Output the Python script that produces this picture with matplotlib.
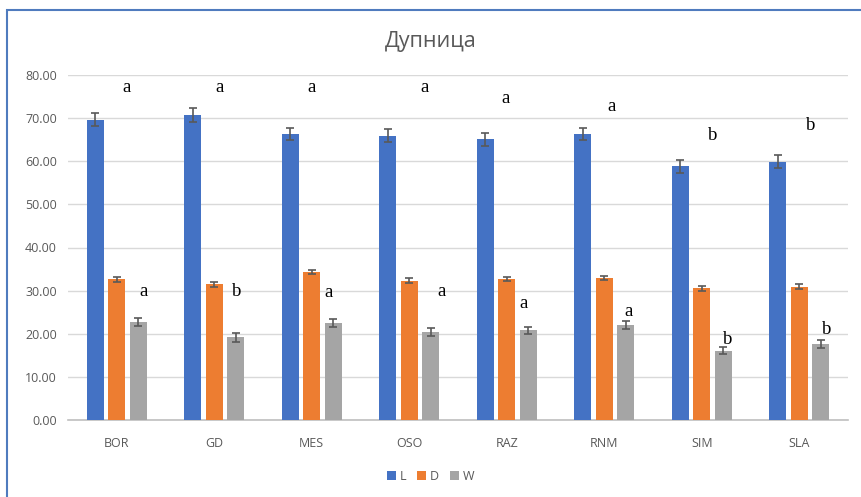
import matplotlib.pyplot as plt
import numpy as np
from matplotlib.patches import Rectangle

# Data
sites = ["BOR", "GD", "MES", "OSO", "RAZ", "RNM", "SIM", "SLA"]
L_vals = [69.6, 70.8, 66.3, 65.9, 65.1, 66.3, 58.8, 59.9]
D_vals = [32.6, 31.5, 34.3, 32.3, 32.7, 32.9, 30.5, 30.9]
W_vals = [22.7, 19.2, 22.5, 20.4, 20.8, 22.0, 16.1, 17.6]
L_err = [1.5, 1.6, 1.45, 1.5, 1.5, 1.45, 1.45, 1.5]
D_err = [0.6, 0.6, 0.5, 0.55, 0.5, 0.5, 0.5, 0.55]
W_err = [0.9, 1.0, 0.85, 0.85, 0.85, 0.85, 0.8, 0.85]
L_letters = ["a", "a", "a", "a", "a", "a", "b", "b"]
W_letters = ["a", "b", "a", "a", "a", "a", "b", "b"]

# Letter placement (x offset from group centre, y height)
L_letter_dx = [0.105, 0.05, 0.0, 0.16, -0.01, 0.08, 0.115, 0.12]
L_letter_y = [77.0, 77.0, 77.0, 77.0, 74.5, 72.6, 65.9, 68.4]
W_letter_dx = [0.27, 0.23, 0.17, 0.33, 0.17, 0.245, 0.27, 0.285]
W_letter_y = [29.7, 29.7, 29.5, 29.7, 26.9, 25.1, 18.6, 20.9]

blue = "#4472C4"
orange = "#ED7D31"
gray = "#A5A5A5"
txt = "#595959"

fig = plt.figure(figsize=(8.61, 4.97), dpi=100)
ax = fig.add_axes([68 / 861, 1 - 420 / 497, 780 / 861, 345 / 497])

x = np.arange(len(sites))
w = 0.175
step = 0.222
ekw = dict(ecolor="#595959", elinewidth=1.2, capsize=3, capthick=1.2)
ax.bar(x - step, L_vals, w, yerr=L_err, color=blue, label="L", error_kw=ekw, zorder=3)
ax.bar(x, D_vals, w, yerr=D_err, color=orange, label="D", error_kw=ekw, zorder=3)
ax.bar(x + step, W_vals, w, yerr=W_err, color=gray, label="W", error_kw=ekw, zorder=3)

for i in range(len(sites)):
    ax.text(x[i] + L_letter_dx[i], L_letter_y[i], L_letters[i], ha="center", va="center",
            fontsize=13.5, family="Liberation Serif", color="black", zorder=5)
    ax.text(x[i] + W_letter_dx[i], W_letter_y[i], W_letters[i], ha="center", va="center",
            fontsize=13.5, family="Liberation Serif", color="black", zorder=5)

ax.set_xlim(-0.5, len(sites) - 0.5)
ax.set_ylim(0, 80)
ax.set_yticks(np.arange(0, 81, 10))
ax.set_yticklabels([f"{v:.2f}" for v in np.arange(0, 81, 10)])
ax.set_xticks(x)
ax.set_xticklabels(sites)
ax.tick_params(axis="both", length=0, labelsize=9, colors=txt)
ax.tick_params(axis="x", pad=12)
ax.tick_params(axis="y", pad=8)
for lab in ax.get_xticklabels() + ax.get_yticklabels():
    lab.set_family("Open Sans")

ax.grid(axis="y", color="#D9D9D9", linewidth=1, zorder=0)
for s in ["top", "right", "left"]:
    ax.spines[s].set_visible(False)
ax.spines["bottom"].set_color("#BFBFBF")
ax.spines["bottom"].set_linewidth(1.2)

fig.text(0.5, 1 - 41 / 497, "Дупница", ha="center", va="center", fontsize=15.5,
         color=txt, family="Open Sans")

leg = fig.legend(loc="center", bbox_to_anchor=(0.5, 1 - 476 / 497), ncol=3, frameon=False,
                 handlelength=0.7, handleheight=0.7, handletextpad=0.3,
                 columnspacing=0.9, fontsize=9)
for t in leg.get_texts():
    t.set_color(txt)
    t.set_family("Open Sans")

# Chart frame
fig.patches.append(Rectangle((7 / 861, -0.1), 1.2, 1 - 9.5 / 497 + 0.1,
                             transform=fig.transFigure, fill=False,
                             edgecolor="#4F7BBE", linewidth=1.5))

fig.savefig("out.png", dpi=100)
